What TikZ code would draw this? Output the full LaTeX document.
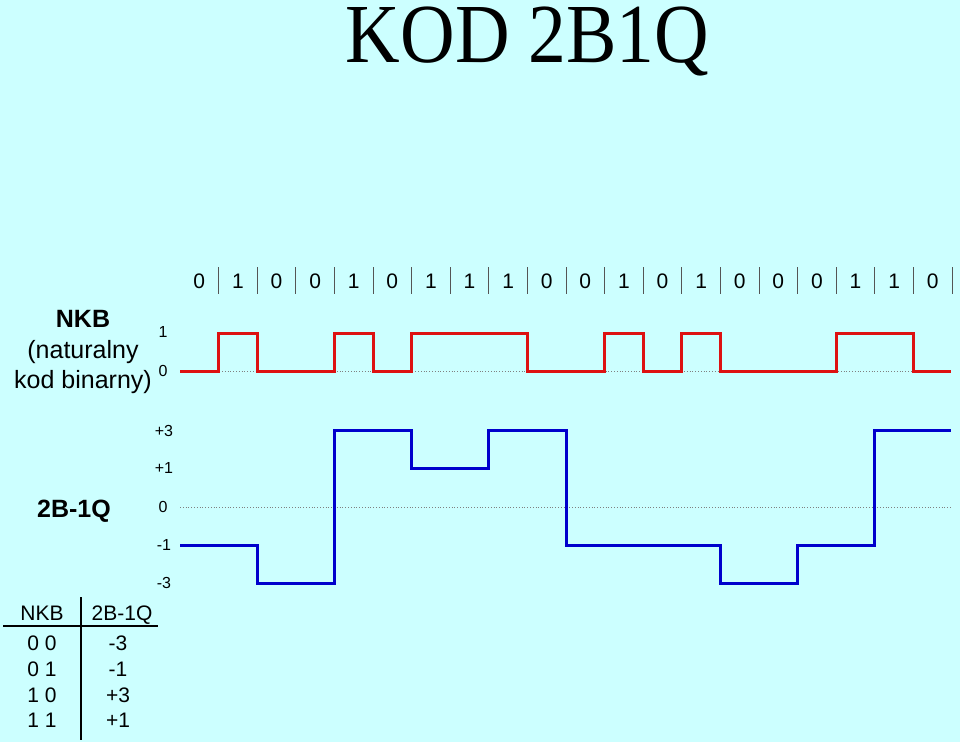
\documentclass[tikz,border=0pt]{standalone}
\usepackage{fontspec}
\setmainfont{Liberation Sans}
\newfontfamily\titlefont{Liberation Serif}
\definecolor{bgc}{HTML}{CCFFFF}
\definecolor{redw}{HTML}{DD1111}
\definecolor{bluew}{HTML}{0000CC}
\definecolor{sepc}{HTML}{555555}
\tikzset{
  bit/.style={inner sep=0pt, font=\fontsize{21}{24}\selectfont},
  axl/.style={inner sep=0pt, font=\fontsize{16}{18}\selectfont},
  lbl/.style={inner sep=0pt, align=center, font=\fontsize{25}{31}\selectfont},
  tbl/.style={inner sep=0pt, font=\fontsize{21}{24}\selectfont},
  sepline/.style={draw=sepc, line width=0.8pt},
  zeroline/.style={draw=gray, line width=0.8pt, dotted},
  redwave/.style={draw=redw, line width=3pt, line join=miter},
  bluewave/.style={draw=bluew, line width=3pt, line join=miter},
  tline/.style={draw=black, line width=1.5pt}
}
\begin{document}
\begin{tikzpicture}[x=1pt,y=-1pt]
\useasboundingbox[fill=bgc] (0,0) rectangle (960,742);
% title
\node[inner sep=0pt, anchor=base, font=\titlefont\fontsize{84}{88}\selectfont] (title) at (527.5,62) {\scalebox{0.9}[1]{KOD 2B1Q}};
% bits
\foreach \b [count=\i from 0] in {0,1,0,0,1,0,1,1,1,0,0,1,0,1,0,0,0,1,1,0} {
  \node[bit] (b\i) at ({180+38.6*(\i+0.5)},281) {\b};
  \draw[sepline] ({180+38.6*(\i+1)},267) -- ({180+38.6*(\i+1)},294);
}
% left labels
\node[lbl] (nkb) at (83,352) {\textbf{NKB}\\(naturalny\\[-1pt]kod binarny)};
\node[lbl] (q) at (74,511) {\textbf{2B-1Q}};
% axis labels
\node[axl] (a1) at (163,332) {1};
\node[axl] (a0) at (163,371) {0};
\node[axl] (p3) at (164,431) {+3};
\node[axl] (p1) at (164,468) {+1};
\node[axl] (z0) at (163,507) {0};
\node[axl] (m1) at (164,545) {-1};
\node[axl] (m3) at (164,583) {-3};
% zero lines
\draw[zeroline] (180,371) -- (951,371);
\draw[zeroline] (180,507) -- (951,507);
% red NKB waveform
\def\u{38.6}
\draw[redwave] (180,371)
  -- ({180+1*\u},371) -- ({180+1*\u},333) -- ({180+2*\u},333) -- ({180+2*\u},371)
  -- ({180+4*\u},371) -- ({180+4*\u},333) -- ({180+5*\u},333) -- ({180+5*\u},371)
  -- ({180+6*\u},371) -- ({180+6*\u},333) -- ({180+9*\u},333) -- ({180+9*\u},371)
  -- ({180+11*\u},371) -- ({180+11*\u},333) -- ({180+12*\u},333) -- ({180+12*\u},371)
  -- ({180+13*\u},371) -- ({180+13*\u},333) -- ({180+14*\u},333) -- ({180+14*\u},371)
  -- ({180+17*\u},371) -- ({180+17*\u},333) -- ({180+19*\u},333) -- ({180+19*\u},371)
  -- (951,371);
% blue 2B1Q waveform
\draw[bluewave] (180,545)
  -- ({180+2*\u},545) -- ({180+2*\u},583) -- ({180+4*\u},583) -- ({180+4*\u},430)
  -- ({180+6*\u},430) -- ({180+6*\u},468) -- ({180+8*\u},468) -- ({180+8*\u},430)
  -- ({180+10*\u},430) -- ({180+10*\u},545) -- ({180+14*\u},545) -- ({180+14*\u},583)
  -- ({180+16*\u},583) -- ({180+16*\u},545) -- ({180+18*\u},545) -- ({180+18*\u},430)
  -- (951,430);
% table
\node[tbl, anchor=base] (th1) at (42,620) {NKB};
\node[tbl, anchor=base] (th2) at (122,620) {2B-1Q};
\draw[tline] (3,626) -- (158,626);
\draw[tline] (81,597) -- (81,740);
\node[tbl] (r1a) at (42,643) {0 0};
\node[tbl] (r2a) at (42,669) {0 1};
\node[tbl] (r3a) at (42,695) {1 0};
\node[tbl] (r4a) at (42,720) {1 1};
\node[tbl] (r1b) at (118,643) {-3};
\node[tbl] (r2b) at (118,669) {-1};
\node[tbl] (r3b) at (118,695) {+3};
\node[tbl] (r4b) at (118,720) {+1};
\end{tikzpicture}
\end{document}
